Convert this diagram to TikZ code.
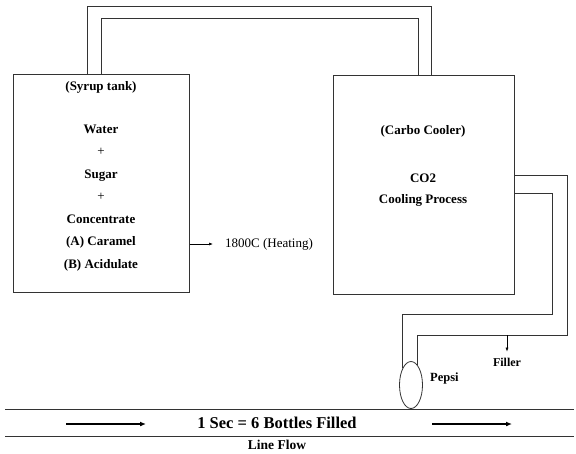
\documentclass[tikz,border=0pt]{standalone}
\usepackage{fontspec}
\setmainfont{Liberation Serif}
\usetikzlibrary{shapes.geometric, arrows.meta, positioning}

\begin{document}
\begin{tikzpicture}[x=1pt, y=-1pt,
    tank/.style={draw=black!80, line width=0.8pt, minimum width=176pt, minimum height=218pt, anchor=north west, inner sep=0pt},
    pipe/.style={draw=black!80, line width=0.8pt},
    label/.style={font=\bfseries\fontsize{13}{15}\selectfont, inner sep=0pt},
    flow/.style={-{Latex[length=6pt, width=5pt]}, line width=1.6pt},
    tip/.style={-{Latex[length=4pt, width=3pt]}, line width=0.6pt}
]
\useasboundingbox (0,0) rectangle (576,453);
% tanks
\node[tank] (syrup) at (13,74) {};
\node[tank, minimum width=181pt, minimum height=219pt] (cooler) at (333,75) {};
\node[label] (syruplbl) at (101,87) {(Syrup tank)};
\node[label, align=center, font=\bfseries\fontsize{13}{22.5}\selectfont] (mix) at (101,198)
    {Water\\{\mdseries +}\\Sugar\\{\mdseries +}\\Concentrate\\(A) Caramel\\(B) Acidulate};
\node[label] (coolerlbl) at (423,131) {(Carbo Cooler)};
\node[label] (co2) at (423,178) {CO2};
\node[label] (cooling) at (423,200) {Cooling Process};
% heating
\node[label, font=\fontsize{13}{15}\selectfont, anchor=west] (heat) at (225,244) {1800C (Heating)};
\draw[tip, shorten >=12pt] (syrup.east |- heat) -- (heat.west);
% top pipes
\coordinate (outerL) at (87,6);
\coordinate (outerR) at (431,6);
\coordinate (innerL) at (101,18);
\coordinate (innerR) at (418,18);
\draw[pipe] (syrup.north -| outerL) -- (outerL) -- (outerR) -- (cooler.north -| outerR);
\draw[pipe] (syrup.north -| innerL) -- (innerL) -- (innerR) -- (cooler.north -| innerR);
% pipes to the filler
\node[ellipse, draw=black!80, line width=0.8pt, minimum width=23pt, minimum height=47pt, inner sep=0pt] (pepsi) at (411,385) {};
\node[label, font=\bfseries\fontsize{12.5}{14}\selectfont, anchor=west] (pepsilbl) at (430,378) {Pepsi};
\coordinate (outA) at (567,175);
\coordinate (outB) at (567,335);
\coordinate (inA) at (552,193);
\coordinate (inB) at (552,314);
\draw[pipe] (cooler.east |- outA) -- (outA) -- (outB) -| (pepsi.73);
\draw[pipe] (cooler.east |- inA) -- (inA) -- (inB) -| (pepsi.115);
\node[label, font=\bfseries\fontsize{12}{14}\selectfont] (filler) at (507,362) {Filler};
\draw[tip] (filler.north |- outB) -- ([yshift=6pt]filler.north);
% line flow
\coordinate (beltL) at (5,409);
\coordinate (beltR) at (574,409);
\coordinate (baseL) at (5,436);
\coordinate (baseR) at (574,436);
\draw[pipe] (beltL) -- (beltR);
\draw[pipe] (baseL) -- (baseR);
\node[label, font=\bfseries\fontsize{16.5}{18}\selectfont] (rate) at (277,423) {1 Sec = 6 Bottles Filled};
\coordinate (flowA) at (66,424);
\coordinate (flowB) at (432,424);
\draw[flow] (flowA) -- ++(80,0);
\draw[flow] (flowB) -- ++(80,0);
\node[label, font=\bfseries\fontsize{13.5}{16}\selectfont] (lineflow) at (277,445) {Line Flow};
\end{tikzpicture}
\end{document}
